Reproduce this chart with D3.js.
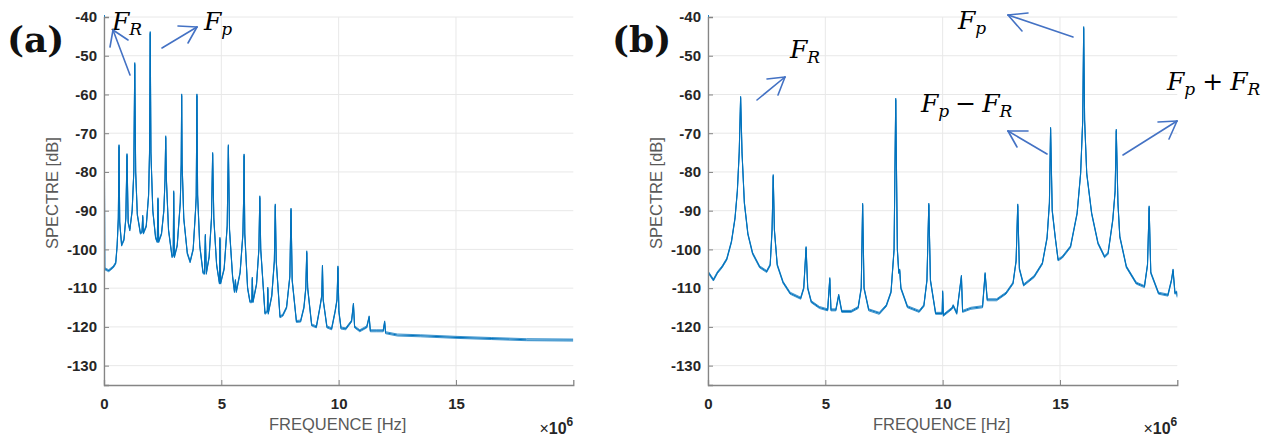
<!DOCTYPE html>
<html>
<head>
<meta charset="utf-8">
<script src="https://cdn.jsdelivr.net/npm/d3@7"></script>
<style>
  html, body { margin: 0; padding: 0; background: #ffffff; }
  svg { display: block; }
</style>
</head>
<body>
<svg id="chart" width="1279" height="438"></svg>
<script>
// ---------------- DATA ----------------
// Frequencies in MHz (axis shows x10^6), spectrum level in dB.
const xTicks = [0, 5, 10, 15];
const yTicks = [-40, -50, -60, -70, -80, -90, -100, -110, -120, -130];

// Panel (a) spectrum vertices
const aFreq = [0, 0.03, 0.2, 0.4, 0.5, 0.56, 0.61, 0.64, 0.67, 0.75, 0.85, 0.93, 0.98, 1.03, 1.1, 1.2, 1.27, 1.31, 1.35, 1.42, 1.55, 1.62, 1.65, 1.68,
  1.8, 1.9, 1.94, 1.97, 2.0, 2.08, 2.2, 2.27, 2.30, 2.33, 2.45, 2.55, 2.6, 2.63, 2.66, 2.75, 2.9, 2.95, 2.97, 3.0, 3.12, 3.25, 3.29, 3.31, 3.33,
  3.4, 3.55, 3.67, 3.8, 3.9, 3.93, 3.96, 3.99, 4.08, 4.22, 4.28, 4.32, 4.36, 4.48, 4.58, 4.63, 4.68, 4.8, 4.92, 4.94, 4.97, 5.12, 5.25, 5.30,
  5.35, 5.48, 5.56, 5.6, 5.64, 5.8, 5.92, 5.95, 5.97, 6.0, 6.12, 6.22, 6.3, 6.32, 6.35, 6.5, 6.6, 6.64, 6.68, 6.86, 6.96, 6.98, 7.0, 7.15,
  7.26, 7.30, 7.34, 7.5, 7.62, 7.78, 7.92, 7.97, 8.02, 8.2, 8.38, 8.52, 8.6, 8.64, 8.68, 8.85, 9.05, 9.2, 9.28, 9.31, 9.34, 9.5, 9.7, 9.85,
  9.93, 9.97, 10.01, 10.1, 10.3, 10.55, 10.63, 10.68, 10.9, 11.2, 11.3, 11.35, 11.6, 11.9, 11.96, 12.0, 12.5, 13.5, 15, 16.5, 18, 20];
const aDb = [-30, -105, -105.5, -104.5, -103.5, -99, -92, -73.2, -93, -98.9, -97.5, -92, -75.5, -93, -95, -90, -80, -52, -80, -91, -95.8, -95.5, -91.4, -95.8,
  -94, -86, -75, -44, -75, -90, -97, -98, -86.9, -98, -96, -90, -82, -70.9, -82, -95, -101.9, -101.5, -85.1, -101.9, -99, -88, -78, -60.1, -78,
  -92, -101, -103.2, -100, -90, -86.4, -60.1, -86, -99, -106, -106.2, -96.3, -106.2, -102, -92, -75.2, -92, -104, -108.7, -97.1, -108.7, -105, -94, -73.2,
  -95, -107, -110.9, -108, -110.9, -106, -96, -87, -75.6, -96, -110, -113.5, -113.5, -107.4, -113.5, -109, -100, -86.4, -100, -116.5, -116, -110, -116.5, -112,
  -103, -88.5, -103, -117.4, -117, -115, -107, -89.6, -108, -118.6, -118.5, -115, -110, -100.6, -110, -119.5, -120, -115, -112, -104.3, -113, -120, -120.5, -116,
  -113, -104.5, -116, -120.3, -120.5, -118.5, -114.1, -120, -121, -120, -117.4, -121, -121, -121, -118.7, -121.5, -122.1, -122.3, -122.7, -123, -123.3, -123.4];

// Panel (b) spectrum vertices
const bFreq = [0, 0.02, 0.23, 0.4, 0.6, 0.8, 1.0, 1.15, 1.25, 1.33, 1.39, 1.45, 1.55, 1.7, 1.9, 2.2, 2.5, 2.65, 2.73, 2.78, 2.83, 2.95, 3.2, 3.5,
  3.95, 4.08, 4.18, 4.25, 4.4, 4.75, 5.1, 5.19, 5.24, 5.45, 5.57, 5.7, 6.1, 6.4, 6.53, 6.59, 6.65, 6.85, 7.3, 7.6, 7.8, 7.93, 8.0, 8.07, 8.13,
  8.17, 8.22, 8.5, 9.0, 9.2, 9.33, 9.41, 9.48, 9.7, 9.98, 10.0, 10.03, 10.4, 10.45, 10.6, 10.8, 10.85, 11.2, 11.7, 11.81, 11.9, 12.3, 12.7, 13.0,
  13.13, 13.2, 13.27, 13.45, 13.9, 14.25, 14.45, 14.55, 14.6, 14.67, 14.8, 14.92, 15.1, 15.45, 15.73, 15.88, 15.97, 16.01, 16.05, 16.14, 16.35,
  16.62, 16.9, 17.05, 17.25, 17.35, 17.4, 17.47, 17.55, 17.83, 18.25, 18.6, 18.73, 18.8, 18.87, 19.2, 19.6, 19.75, 19.82, 19.9, 19.98, 20.0];
const bDb = [-30, -106, -107.9, -106, -104.5, -102.5, -98, -92, -85, -75, -60.7, -75, -88, -96, -101, -104.5, -105.7, -104, -95, -80.9, -95, -104, -108.5, -111.3,
  -112.6, -110, -99.5, -110, -113.5, -115, -115.6, -107.5, -115.6, -115.6, -111.8, -116, -116, -115, -110, -88.3, -110, -115.6, -116.5, -114.5, -111, -100, -61.2, -100, -106,
  -105.3, -110, -114.8, -116, -114.5, -108, -88.3, -108, -116.5, -116.5, -110.9, -117, -115.2, -114.5, -116.5, -106.9, -116, -115.2, -114.8, -106.2, -113, -113, -111.3, -108.7,
  -103, -88.5, -105, -109.2, -107, -103.6, -97, -88, -68.7, -90, -97, -102.7, -102, -99.3, -90.7, -80.4, -66.6, -42.7, -66.6, -80.4, -90.7,
  -98.4, -101.9, -101, -92.4, -85, -69.2, -88, -96.7, -104.5, -108.7, -109.6, -104, -89, -106, -111.3, -111.8, -108, -105.3, -111.3, -111, -112.2];

// ---------------- DRAWING ----------------
const svg = d3.select("#chart");
const W = 469.3, H = 368;        // plot area size
const panels = [
  { id: "a", left: 104, top: 17, freq: aFreq, db: aDb, tag: "(a)", tagX: 7 },
  { id: "b", left: 708, top: 17, freq: bFreq, db: bDb, tag: "(b)", tagX: 612 }
];

const lineColor = "#0072BD";
const arrowColor = "#4472C4";
const sans = "Liberation Sans, Arial, sans-serif";

panels.forEach(p => {
  const x = d3.scaleLinear().domain([0, 20]).range([0, W]);
  const y = d3.scaleLinear().domain([-135, -40]).range([H, 0]);
  const g = svg.append("g").attr("transform", `translate(${p.left},${p.top})`);

  // grid
  g.append("g").selectAll("line").data(yTicks).join("line")
    .attr("x1", 0).attr("x2", W).attr("y1", d => y(d)).attr("y2", d => y(d))
    .attr("stroke", "#e8e8e8").attr("stroke-width", 1);
  g.append("g").selectAll("line").data(xTicks).join("line")
    .attr("y1", 0).attr("y2", H).attr("x1", d => x(d)).attr("x2", d => x(d))
    .attr("stroke", "#e8e8e8").attr("stroke-width", 1);

  // clip
  svg.append("clipPath").attr("id", "clip-" + p.id)
    .append("rect").attr("x", 0).attr("y", -2).attr("width", W).attr("height", H + 2);

  // spectrum line (drawn at three tiny vertical offsets to render the noise band thickness)
  const pts = p.freq.map((f, i) => [f, p.db[i]]);
  const lineGen = d3.line().x(d => x(d[0])).y(d => y(d[1]));
  const lg = g.append("g").attr("clip-path", `url(#clip-${p.id})`);
  [-1, 0, 1].forEach(off => {
    lg.append("path").datum(pts)
      .attr("transform", `translate(0,${off})`)
      .attr("fill", "none").attr("stroke", lineColor)
      .attr("stroke-width", off === 0 ? 1.1 : 0.9)
      .attr("stroke-opacity", off === 0 ? 1 : 0.85)
      .attr("stroke-linejoin", "round")
      .attr("d", lineGen);
  });

  // axes
  const xAxis = d3.axisBottom(x).tickValues(xTicks).tickSize(-5).tickPadding(13).tickFormat(d3.format("d"));
  const yAxis = d3.axisLeft(y).tickValues(yTicks).tickSize(-5).tickPadding(7).tickFormat(d3.format("d"));
  const gx = g.append("g").attr("transform", `translate(0,${H})`).call(xAxis);
  const gy = g.append("g").call(yAxis);
  [gx, gy].forEach(ax => {
    ax.select(".domain").attr("stroke", "#858585").attr("stroke-width", 1.3);
    ax.selectAll(".tick line").attr("stroke", "#858585");
    ax.selectAll("text").attr("font-family", sans)
      .attr("font-size", 15).attr("font-weight", "bold").attr("fill", "#262626");
  });
  gy.selectAll("text").text(d => d3.format("d")(d).replace("−", "-"));

  // axis labels
  g.append("text").attr("x", W / 2 - 1).attr("y", H + 45).attr("text-anchor", "middle")
    .attr("font-family", sans).attr("font-size", 16.5)
    .attr("fill", "#595959").text("FREQUENCE [Hz]");
  g.append("text").attr("transform", `translate(-46,${H / 2 - 8}) rotate(-90)`).attr("text-anchor", "middle")
    .attr("font-family", sans).attr("font-size", 16.5)
    .attr("fill", "#595959").text("SPECTRE [dB]");
  const mult = g.append("text").attr("x", W).attr("y", H + 49).attr("text-anchor", "end")
    .attr("font-family", sans).attr("font-weight", "bold")
    .attr("fill", "#262626");
  mult.append("tspan").attr("font-size", 16).attr("font-weight", "normal").text("×");
  mult.append("tspan").attr("font-size", 16).text("10");
  mult.append("tspan").attr("font-size", 12).attr("dy", -8).text("6");

  // panel tag
  svg.append("text").attr("x", p.tagX).attr("y", 52)
    .attr("font-family", "DejaVu Serif, serif").attr("font-weight", "bold")
    .attr("font-size", 36).attr("fill", "#111").text(p.tag);
});

// ---------------- ANNOTATIONS ----------------
function mathLabel(x0, y0, parts) {
  const t = svg.append("text").attr("x", x0).attr("y", y0)
    .attr("font-family", "DejaVu Serif, serif").attr("fill", "#000");
  parts.forEach(pt => {
    const s = t.append("tspan").text(pt.t)
      .attr("font-size", pt.sub ? 17 : 25)
      .attr("font-style", pt.it ? "italic" : "normal");
    if (pt.dy) s.attr("dy", pt.dy);
    if (pt.dx) s.attr("dx", pt.dx);
  });
}
function arrow(x1, y1, x2, y2, h1, h2) {
  const g = svg.append("g").attr("stroke", arrowColor).attr("stroke-width", 1.6)
    .attr("fill", "none").attr("stroke-linecap", "round");
  g.append("line").attr("x1", x1).attr("y1", y1).attr("x2", x2).attr("y2", y2);
  g.append("line").attr("x1", x2).attr("y1", y2).attr("x2", h1[0]).attr("y2", h1[1]);
  g.append("line").attr("x1", x2).attr("y1", y2).attr("x2", h2[0]).attr("y2", h2[1]);
}
const FR = [{ t: "F", it: true }, { t: "R", it: true, sub: true, dy: 5 }];
const FP = [{ t: "F", it: true }, { t: "p", it: true, sub: true, dy: 5 }];

// panel (a)
mathLabel(112, 30, FR);
mathLabel(204, 30, FP);
arrow(130, 75, 113, 30, [110, 47], [128, 40]);
arrow(162, 48, 197, 27, [178, 26], [188, 43]);

// panel (b)
mathLabel(790, 58, FR);
arrow(757, 100, 785, 77, [767, 79], [778, 95]);
mathLabel(958, 29, FP);
arrow(1073, 37, 1008, 15, [1028, 13], [1022, 31]);
mathLabel(921, 112, [FP[0], FP[1], { t: "−", dy: -5, dx: 6 }, { t: "F", it: true, dx: 6 }, FR[1]]);
arrow(1047, 154, 1008, 131, [1028, 131], [1017, 147]);
mathLabel(1167, 90, [FP[0], FP[1], { t: "+", dy: -5, dx: 7 }, { t: "F", it: true, dx: 7 }, FR[1]]);
arrow(1123, 155, 1177, 121, [1158, 122], [1169, 139]);
</script>
</body>
</html>
